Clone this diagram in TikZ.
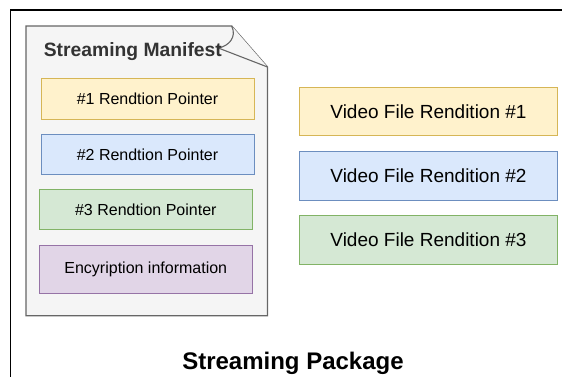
\documentclass[tikz,border=0pt]{standalone}
\usepackage{fontspec}
\setmainfont{Liberation Sans}
\definecolor{ylwFill}{HTML}{FFF2CC}
\definecolor{ylwLine}{HTML}{D6B656}
\definecolor{bluFill}{HTML}{DAE8FC}
\definecolor{bluLine}{HTML}{6C8EBF}
\definecolor{grnFill}{HTML}{D5E8D4}
\definecolor{grnLine}{HTML}{82B366}
\definecolor{purFill}{HTML}{E1D5E7}
\definecolor{purLine}{HTML}{9673A6}
\definecolor{docFill}{HTML}{F5F5F5}
\definecolor{docLine}{HTML}{666666}
\definecolor{docText}{HTML}{333333}
\tikzset{
  box/.style={draw, line width=1pt, rectangle, inner sep=0pt, align=center,
    font=\fontsize{16}{19}\selectfont},
  ptrbox/.style={box, minimum width=213pt, minimum height=40.5pt},
  vidbox/.style={box, minimum width=258.4pt, minimum height=48.3pt,
    font=\fontsize{19}{22}\selectfont},
  yl/.style={fill=ylwFill, draw=ylwLine},
  bl/.style={fill=bluFill, draw=bluLine},
  gr/.style={fill=grnFill, draw=grnLine},
  pu/.style={fill=purFill, draw=purLine},
}
\begin{document}
\begin{tikzpicture}[x=1pt, y=-1pt]
  \useasboundingbox (0,0) rectangle (562,376);
  \clip (0,0) rectangle (562,376);
  % package frame, running past the right and bottom edges
  \draw[line width=1.6pt, black] (10.5,10) rectangle (620,420);
  % manifest document with a curled corner
  \draw[line width=1.3pt, draw=docLine, fill=docFill, line join=miter]
    (26,26) -- (231.7,26) -- (267.5,67) -- (267.5,315.7) -- (26,315.7) -- cycle;
  \draw[line width=1.1pt, draw=docLine, fill=docFill, line join=round]
    (231.7,26) .. controls (237,37) and (229,46) .. (218.3,48) -- (267.5,67);
  \node[anchor=base west, text=docText, font=\fontsize{19.3}{22}\selectfont\bfseries]
    (mtitle) at (40.3,56) {Streaming Manifest};
  % pointer entries
  \node[ptrbox, yl] (p1) at (147.5,99.2) {\#1 Rendtion Pointer};
  \node[ptrbox, bl] (p2) at (147.5,154.7) {\#2 Rendtion Pointer};
  \node[ptrbox, gr] (p3) at (145.8,209.7) {\#3 Rendtion Pointer};
  \node[ptrbox, pu, minimum height=48.3pt] (enc) at (145.8,269.2) {Encyription information};
  % rendition files
  \node[vidbox, yl] (v1) at (428.5,111.5) {Video File Rendition \#1};
  \node[vidbox, bl] (v2) at (428.5,175.9) {Video File Rendition \#2};
  \node[vidbox, gr] (v3) at (428.5,239.9) {Video File Rendition \#3};
  % package caption
  \node[anchor=base, font=\fontsize{24}{28}\selectfont\bfseries]
    (ptitle) at (293,369.3) {Streaming Package};
\end{tikzpicture}
\end{document}
